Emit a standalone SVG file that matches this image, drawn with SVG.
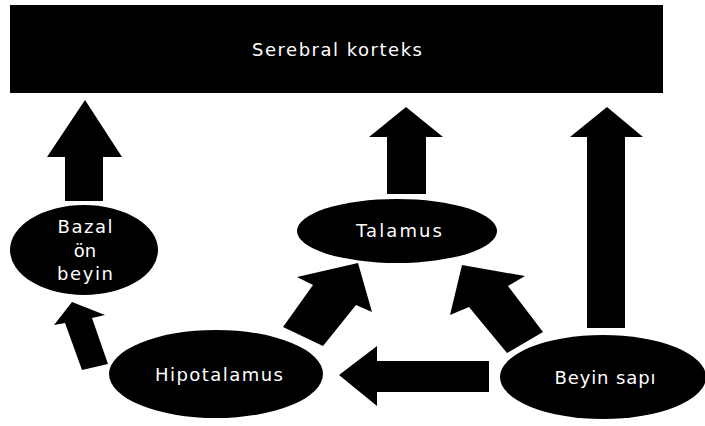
<svg xmlns="http://www.w3.org/2000/svg" width="705" height="426" viewBox="0 0 705 426">
<style>
.shape{fill:#000}
.lbl{fill:#fff;font-family:"DejaVu Sans",Verdana,sans-serif;font-size:18px;text-anchor:middle}
.arr{fill:#000}
</style>
<rect width="705" height="426" fill="#fff"/>
<g id="connectors">
<polygon class="arr" points="85,100 122,157 103,157 103,201 65,201 65,157 47,157"/>
<polygon class="arr" points="406,107 443,137 426,137 426,194 387,194 387,137 369,137"/>
<polygon class="arr" points="607,107 643,137 625,137 625,328 587,328 587,137 570,137"/>
<polygon class="arr" points="339,375 377,346 377,361 489,361 489,392 377,392 377,406"/>
<polygon class="arr" points="72,302 105,315 92,318 108,364 82,370 65,323 54,325"/>
<polygon class="arr" points="358,263 372,312 356,305 323,346 283,327 313,285 297,277"/>
<polygon class="arr" points="462,265 525,276 508,286 543,332 507,353 469,307 450,315"/>
</g>
<g id="korteks">
<rect class="shape" x="10" y="5" width="653" height="88"/>
<text class="lbl" x="337" y="56" textLength="170" lengthAdjust="spacing">Serebral korteks</text>
</g>
<g id="bazal">
<ellipse class="shape" cx="84" cy="250" rx="74" ry="45"/>
<text class="lbl" x="85" y="233" textLength="55" lengthAdjust="spacing">Bazal</text>
<text class="lbl" x="85" y="257">ön</text>
<text class="lbl" x="85" y="280" textLength="56" lengthAdjust="spacing">beyin</text>
</g>
<g id="talamus">
<ellipse class="shape" cx="397" cy="231" rx="100" ry="32"/>
<text class="lbl" x="399" y="237" textLength="86" lengthAdjust="spacing">Talamus</text>
</g>
<g id="hipotalamus">
<ellipse class="shape" cx="216" cy="374" rx="107" ry="44"/>
<text class="lbl" x="219" y="381" textLength="128" lengthAdjust="spacing">Hipotalamus</text>
</g>
<g id="beyinsapi">
<ellipse class="shape" cx="603" cy="377" rx="103" ry="42"/>
<text class="lbl" x="605" y="384" textLength="101" lengthAdjust="spacing">Beyin sapı</text>
</g>
</svg>
